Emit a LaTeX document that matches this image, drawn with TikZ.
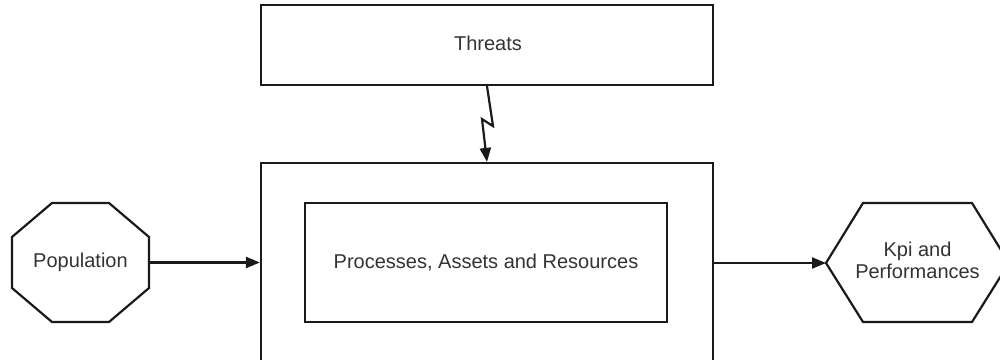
\documentclass[tikz,border=0pt]{standalone}
\usepackage{fontspec}
\setmainfont{Liberation Sans}
\usetikzlibrary{arrows.meta}
\definecolor{ink}{HTML}{1A1A1A}
\definecolor{label}{HTML}{333333}
\tikzset{
  outline/.style={draw=ink, line width=2.2pt, line join=miter},
  boxnode/.style={outline, fill=white, inner sep=0pt},
  caption/.style={text=label, font=\fontsize{20}{22}\selectfont, align=center, inner sep=0pt},
  flow/.style={draw=ink, line width=2.2pt, -{Triangle[length=14pt,width=11pt]}},
}
\begin{document}
\begin{tikzpicture}[x=1pt,y=-1pt]
  \clip (0,0) rectangle (1000,359);
  \fill[white] (0,0) rectangle (1000,359);

  % threats box on top
  \node[boxnode, minimum width=452pt, minimum height=80pt] (threats) at (487,45) {};
  \node[caption] (threatsTxt) at (488,43) {Threats};

  % main system box (runs past the lower edge)
  \node[boxnode, minimum width=452pt, minimum height=257pt] (main) at (487,291.5) {};
  \node[boxnode, minimum width=362pt, minimum height=119pt] (inner) at (486,262.5) {};
  \node[caption] (innerTxt) at (inner.center) {Processes, Assets and Resources};

  % population octagon
  \draw[outline] (12,237) -- (52,203) -- (109,203) -- (149,237) -- (149,288)
                 -- (109,322) -- (52,322) -- (12,288) -- cycle;
  \node[caption] (pop) at (80.5,262) {Population};
  \coordinate (popE) at (149,262.5);

  % kpi hexagon
  \draw[outline] (826,263) -- (863,203) -- (972,203) -- (1009,263)
                 -- (972,322) -- (863,322) -- cycle;
  \node[caption] (kpi) at (917.5,260) {Kpi and\\Performances};
  \coordinate (kpiW) at (826,263);

  % connectors
  \draw[flow] (popE) -- (popE -| main.west);
  \draw[flow] (kpiW -| main.east) -- (kpiW);
  \draw[flow] (threats.south) -- ++(6,40) -- ++(-11,-7) -- (main.north);
\end{tikzpicture}
\end{document}
